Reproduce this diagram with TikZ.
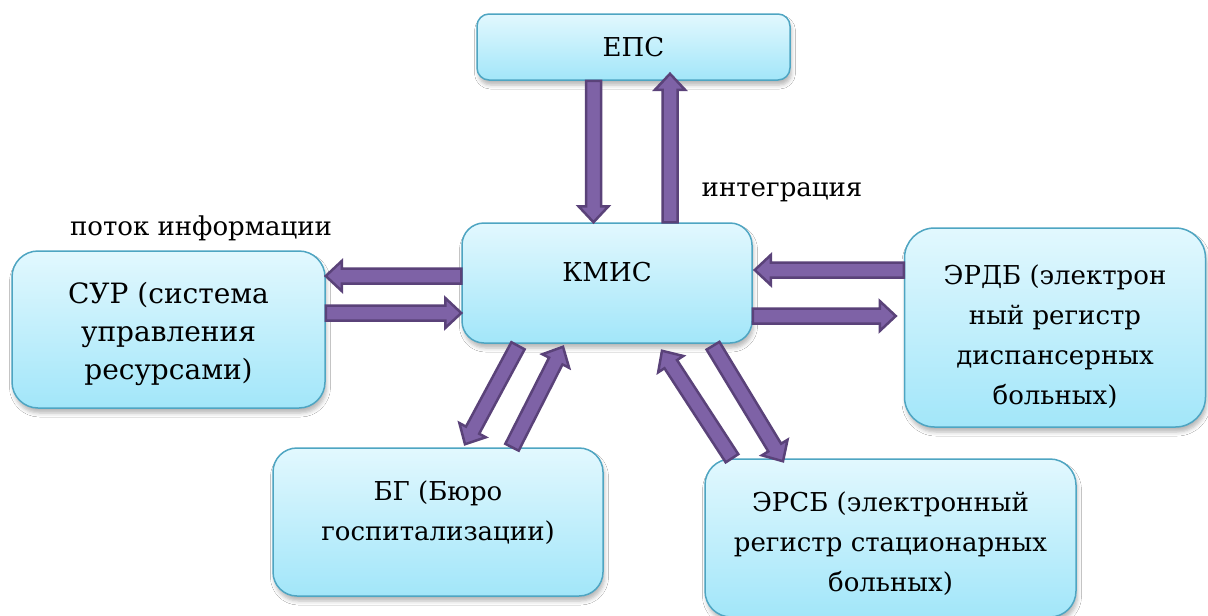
\documentclass[tikz,border=0pt]{standalone}
\usepackage{fontspec}
\setmainfont{DejaVu Serif}
\newfontfamily\tnr{DejaVu Serif}
\usetikzlibrary{calc,shadows.blur}
\definecolor{boxtop}{HTML}{E2F8FE}
\definecolor{boxbot}{HTML}{A2E6F9}
\definecolor{boxline}{HTML}{4EA5C2}
\definecolor{arrfill}{HTML}{7E62A6}
\definecolor{arrline}{HTML}{5A4279}
\tikzset{
  box/.style={draw=boxline, line width=1.5pt, top color=boxtop, bottom color=boxbot,
    rounded corners=22pt, align=center, inner sep=0pt,
    blur shadow={shadow xshift=1.5pt, shadow yshift=-5pt, shadow blur radius=4pt, shadow opacity=28},
    font=\tnr\fontsize{26}{40}\selectfont},
  fatarr/.style={fill=arrfill, draw=arrline, line width=2.5pt, line join=miter},
  lbl/.style={font=\tnr\fontsize{26}{34}\selectfont, inner sep=0pt},
}
\newcommand{\fatarrow}[2]{%
  \coordinate (h-#1-#2) at ($(#2)!16pt!(#1)$);
  \draw[fatarr] ($(#1)!7.5pt!90:(#2)$) -- ($(h-#1-#2)!7.5pt!-90:(#1)$)
    -- ($(h-#1-#2)!15pt!-90:(#1)$) -- (#2) -- ($(h-#1-#2)!15pt!90:(#1)$)
    -- ($(h-#1-#2)!7.5pt!90:(#1)$) -- ($(#1)!7.5pt!-90:(#2)$) -- cycle;
}
\begin{document}
\begin{tikzpicture}[x=1pt,y=-1pt]
\fill[white] (0,0) rectangle (1208,616);
\useasboundingbox (0,0) rectangle (1208,616);

\node[box, rounded corners=12pt, minimum width=313pt, minimum height=66pt] (epc) at (633.5,47) {ЕПС};
\node[box, minimum width=290pt, minimum height=120pt, text height=20pt, text depth=24pt] (kmis) at (607,283) {КМИС};
\node[box, rounded corners=26pt, minimum width=313pt, minimum height=157pt, font=\tnr\fontsize{28}{38}\selectfont] (sur) at (168.5,329.5) {\rule{0pt}{31pt}СУР (система\\управления\\ресурсами)};
\node[box, rounded corners=30pt, minimum width=301pt, minimum height=199pt] (erdb) at (1055,327.5) {\rule{0pt}{38pt}ЭРДБ (электрон\\ный регистр\\диспансерных\\больных)};
\node[box, rounded corners=24pt, minimum width=330pt, minimum height=148pt] (bg) at (438,522) {БГ (Бюро\\госпитализации)\rule[-22pt]{0pt}{0pt}};
\node[box, rounded corners=26pt, minimum width=371pt, minimum height=158pt] (ersb) at (890.5,538) {\rule{0pt}{32pt}ЭРСБ (электронный\\регистр стационарных\\больных)};

\node[lbl] (integ) at (782,192) {интеграция};
\node[lbl] (flow) at (201,228) {поток информации};

% EPS <-> KMIS
\coordinate (e1t) at ($(epc.south)+(-40,0)$);
\coordinate (e1h) at (e1t |- kmis.north);
\coordinate (e2t) at ($(kmis.north)+(63,0)$);
\coordinate (e2h) at ($(e2t |- epc.south)+(0,-7)$);
% SUR <-> KMIS
\coordinate (s1t) at ($(kmis.west)+(0,-7)$);
\coordinate (s1h) at (s1t -| sur.east);
\coordinate (s2t) at ($(sur.east)+(0,-16.5)$);
\coordinate (s2h) at (s2t -| kmis.west);
% ERDB <-> KMIS
\coordinate (r1t) at ($(erdb.west)+(0,-57.5)$);
\coordinate (r1h) at ($(r1t -| kmis.east)+(2,0)$);
\coordinate (r2t) at ($(kmis.east)+(0,33)$);
\coordinate (r2h) at ($(r2t -| erdb.west)+(-8,0)$);
% BG <-> KMIS
\coordinate (b1t) at ($(kmis.south)+(-89,2)$);
\coordinate (b1h) at ($(bg.north)+(27,-3)$);
\coordinate (b2t) at ($(bg.north)+(74,0)$);
\coordinate (b2h) at ($(kmis.south)+(-44,3)$);
% ERSB <-> KMIS
\coordinate (c1t) at ($(ersb.north)+(-158.5,0)$);
\coordinate (c1h) at ($(kmis.south)+(55,7)$);
\coordinate (c2t) at ($(kmis.south)+(106,2)$);
\coordinate (c2h) at ($(ersb.north)+(-107.5,3)$);

\fatarrow{e1t}{e1h}
\fatarrow{e2t}{e2h}
\fatarrow{s1t}{s1h}
\fatarrow{s2t}{s2h}
\fatarrow{r1t}{r1h}
\fatarrow{r2t}{r2h}
\fatarrow{b1t}{b1h}
\fatarrow{b2t}{b2h}
\fatarrow{c1t}{c1h}
\fatarrow{c2t}{c2h}
\end{tikzpicture}
\end{document}
